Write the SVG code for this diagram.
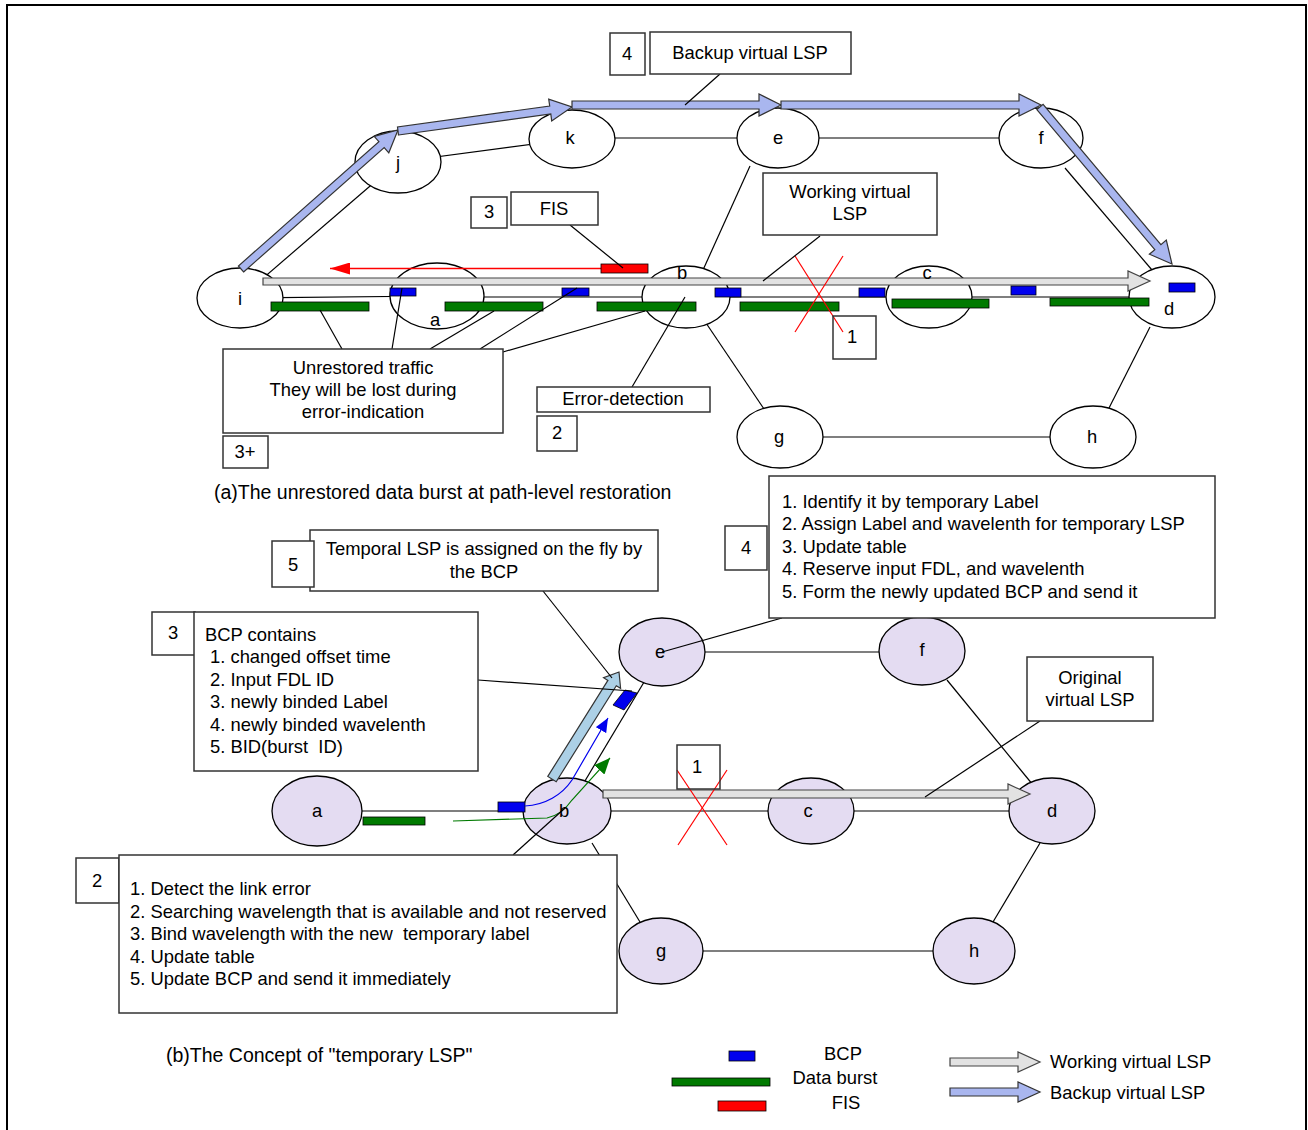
<svg xmlns="http://www.w3.org/2000/svg" width="1308" height="1130" viewBox="0 0 1308 1130">
  <defs>
    <style>
      .ln { stroke: #000; stroke-width: 1.2; fill: none; }
      .box { fill: #fff; stroke: #333; stroke-width: 1.5; }
      .nodeA { fill: #fff; stroke: #000; stroke-width: 1.3; }
      .nodeB { fill: #e4dcf2; stroke: #000; stroke-width: 1.3; }
      .t { font-family: "Liberation Sans", Arial, sans-serif; font-size: 18.4px; fill: #000; white-space: pre; }
      .cap { font-size: 19.5px; }
      .c { text-anchor: middle; }
      .bcp { fill: #0000ee; stroke: #000; stroke-width: 0.8; }
      .burst { fill: #007a00; stroke: #000; stroke-width: 0.8; }
      .fis { fill: #ff0000; stroke: #000; stroke-width: 0.8; }
      .backup { fill: #a9b6ef; stroke: #333; stroke-width: 1.2; }
      .work { fill: #e2e2e2; stroke: #444; stroke-width: 1.2; }
      .temp { fill: #acd0e6; stroke: #333; stroke-width: 1.2; }
      .cut { stroke: #ff0000; stroke-width: 1.2; fill: none; }
    </style>
    <marker id="ahRed" markerWidth="20" markerHeight="12" refX="20" refY="6" orient="auto" markerUnits="userSpaceOnUse">
      <path d="M0,0 L20,6 L0,12 z" fill="#ff0000"/>
    </marker>
    <marker id="ahBlue" markerWidth="14" markerHeight="12" refX="14" refY="6" orient="auto" markerUnits="userSpaceOnUse">
      <path d="M0,0 L14,6 L0,12 z" fill="#0000ee"/>
    </marker>
    <marker id="ahGreen" markerWidth="16" markerHeight="14" refX="16" refY="7" orient="auto" markerUnits="userSpaceOnUse">
      <path d="M0,0 L16,7 L0,14 z" fill="#007a00"/>
    </marker>
  </defs>

  <!-- frame -->
  <rect x="7" y="5" width="1299" height="1140" fill="#fff" stroke="#000" stroke-width="2"/>

  <!-- ===================== (a) path-level restoration ===================== -->
  <g id="links-a">
    <line class="ln" x1="240" y1="298" x2="398" y2="162"/>
    <line class="ln" x1="398" y1="162" x2="572" y2="139"/>
    <line class="ln" x1="572" y1="138" x2="778" y2="138"/>
    <line class="ln" x1="778" y1="138" x2="1041" y2="138"/>
    <line class="ln" x1="1065" y1="168" x2="1152" y2="270"/>
    <line class="ln" x1="750" y1="166" x2="703" y2="270"/>
    <line class="ln" x1="706" y1="323" x2="766" y2="412"/>
    <line class="ln" x1="1150" y1="327" x2="1108" y2="410"/>
    <line class="ln" x1="780" y1="437" x2="1093" y2="437"/>
    <line class="ln" x1="240" y1="298" x2="437" y2="296"/>
    <line class="ln" x1="437" y1="297" x2="1172" y2="297"/>
  </g>

  <g id="node-a-i"><ellipse class="nodeA" cx="240" cy="298" rx="43" ry="30"/></g>
  <g id="node-a-j"><ellipse class="nodeA" cx="398" cy="162" rx="43" ry="31"/></g>
  <g id="node-a-k"><ellipse class="nodeA" cx="572" cy="139" rx="43" ry="29"/></g>
  <g id="node-a-e"><ellipse class="nodeA" cx="778" cy="138" rx="41" ry="30"/></g>
  <g id="node-a-f"><ellipse class="nodeA" cx="1041" cy="138" rx="42" ry="30"/></g>
  <g id="node-a-a"><ellipse class="nodeA" cx="437" cy="296" rx="47" ry="33"/></g>
  <g id="node-a-b"><ellipse class="nodeA" cx="686" cy="297" rx="44" ry="31"/></g>
  <g id="node-a-c"><ellipse class="nodeA" cx="929" cy="297" rx="43" ry="31"/></g>
  <g id="node-a-d"><ellipse class="nodeA" cx="1172" cy="297" rx="43" ry="31"/></g>
  <g id="node-a-g"><ellipse class="nodeA" cx="780" cy="437" rx="43" ry="31"/></g>
  <g id="node-a-h"><ellipse class="nodeA" cx="1093" cy="437" rx="43" ry="31"/></g>

  <!-- backup virtual LSP i-j-k-e-f-d -->
  <g id="backup-lsp-a">
    <polygon class="backup" points="243.6,272 384.2,147.6 388.8,152.8 398,130 374.2,136.3 378.9,141.6 238.4,266"/>
    <polygon class="backup" points="398.5,135 550.8,114 551.7,120.9 572,107 548.7,99.1 549.7,106 397.5,127"/>
    <polygon class="backup" points="572,101 759,101 759,94 781,105 759,116 759,109 572,109"/>
    <polygon class="backup" points="781,101 1019,101 1019,94 1041,105 1019,116 1019,109 781,109"/>
    <polygon class="backup" points="1036.9,109.6 1154.8,249.7 1149.4,254.2 1172,264 1166.3,240.1 1160.9,244.6 1043.1,104.4"/>
  </g>

  <!-- working virtual LSP i-...-d -->
  <g id="working-lsp-a">
    <polygon class="work" points="263,278 1128,278 1128,271 1150,281 1128,291 1128,285 263,285"/>
  </g>

  <!-- data bursts and control packets -->
  <g id="bursts-a">
    <rect class="burst" x="271" y="302" width="98" height="9"/>
    <rect class="burst" x="445" y="302" width="98" height="9"/>
    <rect class="burst" x="597" y="302" width="99" height="9"/>
    <rect class="burst" x="740" y="302" width="99" height="9"/>
    <rect class="burst" x="892" y="299" width="97" height="9"/>
    <rect class="burst" x="1050" y="298" width="99" height="8"/>
  </g>
  <g id="bcps-a">
    <rect class="bcp" x="390" y="288" width="26" height="8"/>
    <rect class="bcp" x="562" y="288" width="27" height="8"/>
    <rect class="bcp" x="715" y="288" width="26" height="9"/>
    <rect class="bcp" x="859" y="288" width="26" height="9"/>
    <rect class="bcp" x="1011" y="286" width="25" height="9"/>
    <rect class="bcp" x="1169" y="283" width="26" height="9"/>
  </g>

  <!-- failure indication signal travelling back to the ingress -->
  <g id="fis-a">
    <line x1="601" y1="268.5" x2="330" y2="268.5" stroke="#ff0000" stroke-width="1.3" marker-end="url(#ahRed)"/>
    <rect class="fis" x="601" y="264" width="47" height="9"/>
  </g>

  <!-- link failure b-c -->
  <g id="cut-a">
    <line class="cut" x1="795" y1="256" x2="843" y2="332"/>
    <line class="cut" x1="843" y1="256" x2="795" y2="332"/>
  </g>

  <!-- callout leaders -->
  <g id="callouts-a">
    <line class="ln" x1="720" y1="74" x2="685" y2="105"/>
    <line class="ln" x1="570" y1="225" x2="623" y2="268"/>
    <line class="ln" x1="820" y1="236" x2="763" y2="281"/>
    <line class="ln" x1="342" y1="349" x2="320" y2="310"/>
    <line class="ln" x1="392" y1="349" x2="402" y2="288"/>
    <line class="ln" x1="430" y1="349" x2="494" y2="311"/>
    <line class="ln" x1="480" y1="349" x2="577" y2="288"/>
    <line class="ln" x1="503" y1="352" x2="645" y2="311"/>
    <line class="ln" x1="632" y1="387" x2="685" y2="297"/>
  </g>

  <g id="box-a-4"><rect class="box" x="610" y="33" width="35" height="42"/><text class="t c" x="627" y="60">4</text></g>
  <g id="box-a-backup"><rect class="box" x="650" y="32" width="201" height="42"/><text class="t c" x="750" y="59">Backup virtual LSP</text></g>
  <g id="box-a-3"><rect class="box" x="471" y="197" width="36" height="31"/><text class="t c" x="489" y="218">3</text></g>
  <g id="box-a-fis"><rect class="box" x="511" y="192" width="87" height="33"/><text class="t c" x="554" y="215">FIS</text></g>
  <g id="box-a-working"><rect class="box" x="763" y="173" width="174" height="62"/>
    <text class="t c" x="850" y="198">Working virtual</text><text class="t c" x="850" y="220">LSP</text></g>
  <g id="box-a-1"><rect class="box" x="833" y="316" width="43" height="43" style="fill:none"/><text class="t c" x="852" y="343">1</text></g>
  <g id="box-a-unrestored"><rect class="box" x="223" y="349" width="280" height="84"/>
    <text class="t c" x="363" y="374">Unrestored traffic</text>
    <text class="t c" x="363" y="396">They will be lost during</text>
    <text class="t c" x="363" y="418">error-indication</text></g>
  <g id="box-a-3plus"><rect class="box" x="223" y="436" width="45" height="32"/><text class="t c" x="245" y="458">3+</text></g>
  <g id="box-a-detect"><rect class="box" x="537" y="387" width="173" height="25"/><text class="t c" x="623" y="405">Error-detection</text></g>
  <g id="box-a-2"><rect class="box" x="537" y="416" width="40" height="35"/><text class="t c" x="557" y="439">2</text></g>

  <g id="labels-a">
    <text class="t c" x="240" y="305">i</text>
    <text class="t c" x="398" y="169">j</text>
    <text class="t c" x="570" y="144">k</text>
    <text class="t c" x="778" y="144">e</text>
    <text class="t c" x="1041" y="144">f</text>
    <text class="t c" x="435" y="326">a</text>
    <text class="t c" x="682" y="279">b</text>
    <text class="t c" x="927" y="279">c</text>
    <text class="t c" x="1169" y="315">d</text>
    <text class="t c" x="779" y="443">g</text>
    <text class="t c" x="1092" y="443">h</text>
    <text class="t cap" x="214" y="499">(a)The unrestored data burst at path-level restoration</text>
  </g>

  <!-- ===================== (b) temporary LSP ===================== -->
  <g id="links-b">
    <line class="ln" x1="317" y1="811" x2="1052" y2="811"/>
    <line class="ln" x1="662" y1="652" x2="922" y2="652"/>
    <line class="ln" x1="947" y1="680" x2="1033" y2="785"/>
    <line class="ln" x1="592" y1="843" x2="640" y2="922"/>
    <line class="ln" x1="1040" y1="843" x2="993" y2="922"/>
    <line class="ln" x1="661" y1="951" x2="974" y2="951"/>
    <line class="ln" x1="567" y1="811" x2="662" y2="652"/>
  </g>

  <g id="node-b-a"><ellipse class="nodeB" cx="317" cy="811" rx="45" ry="35"/></g>
  <g id="node-b-b"><ellipse class="nodeB" cx="567" cy="811" rx="44" ry="33"/></g>
  <g id="node-b-c"><ellipse class="nodeB" cx="811" cy="811" rx="43" ry="33"/></g>
  <g id="node-b-d"><ellipse class="nodeB" cx="1052" cy="811" rx="43" ry="33"/></g>
  <g id="node-b-e"><ellipse class="nodeB" cx="662" cy="652" rx="43" ry="34"/></g>
  <g id="node-b-f"><ellipse class="nodeB" cx="922" cy="651" rx="43" ry="34"/></g>
  <g id="node-b-g"><ellipse class="nodeB" cx="661" cy="951" rx="42" ry="33"/></g>
  <g id="node-b-h"><ellipse class="nodeB" cx="974" cy="951" rx="41" ry="33"/></g>

  <!-- original working LSP b-c-d -->
  <g id="working-lsp-b">
    <polygon class="work" points="603,790 1008,790 1008,784 1030,794 1008,804 1008,798 603,798"/>
  </g>

  <!-- temporary LSP b-e -->
  <g id="temp-lsp-b">
    <polygon class="temp" points="556.2,781.7 616.3,685.7 620.6,688.3 619,672 603.6,677.7 607.9,680.4 547.8,776.4"/>
  </g>

  <g id="flows-b">
    <rect class="burst" x="363" y="817" width="62" height="8"/>
    <rect class="bcp" x="498" y="802" width="27" height="10"/>
    <path d="M453,821 L547,818 C557,816 565,810 572,800 L610,758" fill="none" stroke="#007a00" stroke-width="1.2" marker-end="url(#ahGreen)"/>
    <path d="M525,806 C545,805 562,795 572,780 L608,718" fill="none" stroke="#0000ee" stroke-width="1.2" marker-end="url(#ahBlue)"/>
    <polygon class="bcp" points="613,705 625,690 637,693 624,710"/>
  </g>

  <!-- link failure b-c -->
  <g id="cut-b">
    <line class="cut" x1="677" y1="770" x2="727" y2="845"/>
    <line class="cut" x1="727" y1="770" x2="678" y2="845"/>
  </g>

  <g id="callouts-b">
    <line class="ln" x1="543" y1="591" x2="612" y2="678"/>
    <line class="ln" x1="478" y1="680" x2="632" y2="691"/>
    <line class="ln" x1="782" y1="618" x2="662" y2="652"/>
    <line class="ln" x1="1040" y1="721" x2="925" y2="797"/>
    <line class="ln" x1="513" y1="855" x2="565" y2="808"/>
  </g>

  <g id="box-b-temporal"><rect class="box" x="310" y="530" width="348" height="61"/>
    <text class="t c" x="484" y="555">Temporal LSP is assigned on the fly by</text>
    <text class="t c" x="484" y="578">the BCP</text></g>
  <g id="box-b-5"><rect class="box" x="272" y="541" width="42" height="46"/><text class="t c" x="293" y="571">5</text></g>
  <g id="box-b-3"><rect class="box" x="152" y="612" width="43" height="43"/><text class="t c" x="173" y="639">3</text></g>
  <g id="box-b-bcp"><rect class="box" x="194" y="612" width="284" height="159"/>
    <text class="t" x="205" y="641">BCP contains</text>
    <text class="t" x="210" y="663">1. changed offset time</text>
    <text class="t" x="210" y="686">2. Input FDL ID</text>
    <text class="t" x="210" y="708">3. newly binded Label</text>
    <text class="t" x="210" y="731">4. newly binded wavelenth</text>
    <text class="t" x="210" y="753">5. BID(burst  ID)</text></g>
  <g id="box-b-4"><rect class="box" x="725" y="526" width="42" height="44"/><text class="t c" x="746" y="554">4</text></g>
  <g id="box-b-steps4"><rect class="box" x="769" y="476" width="446" height="142"/>
    <text class="t" x="782" y="508">1. Identify it by temporary Label</text>
    <text class="t" x="782" y="530">2. Assign Label and wavelenth for temporary LSP</text>
    <text class="t" x="782" y="553">3. Update table</text>
    <text class="t" x="782" y="575">4. Reserve input FDL, and wavelenth</text>
    <text class="t" x="782" y="598">5. Form the newly updated BCP and send it</text></g>
  <g id="box-b-original"><rect class="box" x="1027" y="657" width="126" height="64"/>
    <text class="t c" x="1090" y="684">Original</text>
    <text class="t c" x="1090" y="706">virtual LSP</text></g>
  <g id="box-b-1"><rect class="box" x="677" y="745" width="43" height="44" style="fill:none"/><text class="t c" x="697" y="773">1</text></g>
  <g id="box-b-2"><rect class="box" x="76" y="858" width="43" height="45"/><text class="t c" x="97" y="887">2</text></g>
  <g id="box-b-steps2"><rect class="box" x="119" y="855" width="498" height="158"/>
    <text class="t" x="130" y="895">1. Detect the link error</text>
    <text class="t" x="130" y="918">2. Searching wavelength that is available and not reserved</text>
    <text class="t" x="130" y="940">3. Bind wavelength with the new  temporary label</text>
    <text class="t" x="130" y="963">4. Update table</text>
    <text class="t" x="130" y="985">5. Update BCP and send it immediately</text></g>

  <g id="labels-b">
    <text class="t c" x="317" y="817">a</text>
    <text class="t c" x="564" y="817">b</text>
    <text class="t c" x="808" y="817">c</text>
    <text class="t c" x="1052" y="817">d</text>
    <text class="t c" x="660" y="658">e</text>
    <text class="t c" x="922" y="656">f</text>
    <text class="t c" x="661" y="957">g</text>
    <text class="t c" x="974" y="957">h</text>
    <text class="t cap" x="166" y="1062">(b)The Concept of &quot;temporary LSP&quot;</text>
  </g>

  <!-- legend -->
  <g id="legend">
    <rect class="bcp" x="729" y="1051" width="26" height="10"/>
    <text class="t c" x="843" y="1060">BCP</text>
    <rect class="burst" x="672" y="1078" width="98" height="8"/>
    <text class="t c" x="835" y="1084">Data burst</text>
    <rect class="fis" x="718" y="1101" width="48" height="10"/>
    <text class="t c" x="846" y="1109">FIS</text>
    <polygon class="work" points="950,1058 1018,1058 1018,1052 1040,1062 1018,1072 1018,1066 950,1066"/>
    <text class="t" x="1050" y="1068">Working virtual LSP</text>
    <polygon class="backup" points="950,1088 1018,1088 1018,1082 1040,1092 1018,1102 1018,1096 950,1096"/>
    <text class="t" x="1050" y="1099">Backup virtual LSP</text>
  </g>
</svg>
